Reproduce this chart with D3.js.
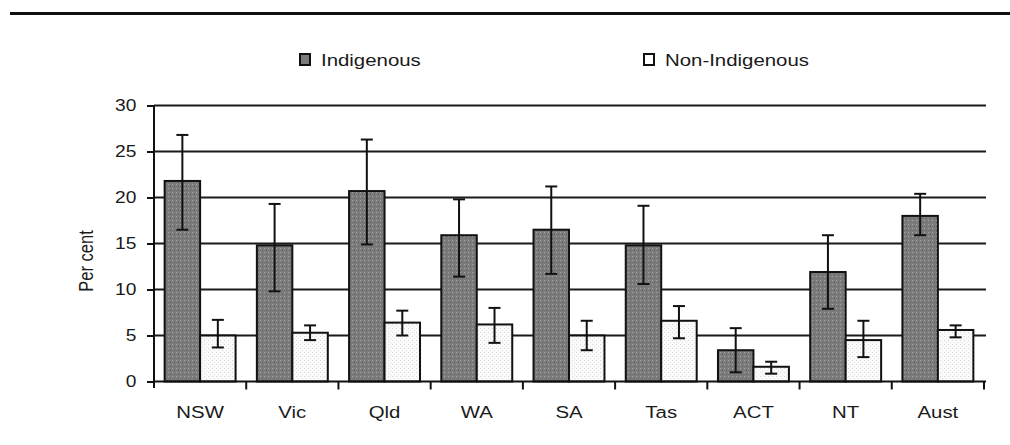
<!DOCTYPE html>
<html>
<head>
<meta charset="utf-8">
<script src="https://cdn.jsdelivr.net/npm/d3@7"></script>
<style>
  body { margin: 0; background: #fff; }
  text { font-family: "Liberation Sans", Arial, sans-serif; fill: #1a1a1a; }
</style>
</head>
<body>
<svg width="1010" height="445"></svg>
<script>
var categories = ["NSW", "Vic", "Qld", "WA", "SA", "Tas", "ACT", "NT", "Aust"];
var seriesNames = ["Indigenous", "Non-Indigenous"];
var indigenous = [21.8, 14.8, 20.7, 15.9, 16.5, 14.8, 3.4, 11.9, 18.0];
var indigenousLow = [16.5, 9.8, 14.9, 11.4, 11.7, 10.6, 1.0, 7.9, 15.9];
var indigenousHigh = [26.8, 19.3, 26.3, 19.8, 21.2, 19.1, 5.8, 15.9, 20.4];
var nonIndigenous = [5.0, 5.3, 6.4, 6.2, 5.0, 6.6, 1.6, 4.5, 5.6];
var nonIndigenousLow = [3.7, 4.5, 5.0, 4.2, 3.4, 4.7, 0.85, 2.65, 4.8];
var nonIndigenousHigh = [6.7, 6.1, 7.7, 8.0, 6.6, 8.2, 2.15, 6.6, 6.1];
var yTicks = [0, 5, 10, 15, 20, 25, 30];

var rows = [];
categories.forEach(function(c, i) {
  rows.push({cat: c, series: "Indigenous", v: indigenous[i], lo: indigenousLow[i], hi: indigenousHigh[i]});
  rows.push({cat: c, series: "Non-Indigenous", v: nonIndigenous[i], lo: nonIndigenousLow[i], hi: nonIndigenousHigh[i]});
});

var svg = d3.select("svg");
var stretch = 1.2;

// textures
var defs = svg.append("defs");
var pd = defs.append("pattern").attr("id", "darkDots")
  .attr("width", 4).attr("height", 4).attr("patternUnits", "userSpaceOnUse");
pd.append("rect").attr("width", 4).attr("height", 4).attr("fill", "#7b7b7b");
pd.append("rect").attr("x", 0).attr("y", 0).attr("width", 1).attr("height", 1).attr("fill", "#a8a8a8");
pd.append("rect").attr("x", 2).attr("y", 2).attr("width", 1).attr("height", 1).attr("fill", "#666");
var pl = defs.append("pattern").attr("id", "lightDots")
  .attr("width", 4).attr("height", 4).attr("patternUnits", "userSpaceOnUse");
pl.append("rect").attr("width", 4).attr("height", 4).attr("fill", "#fafafa");
pl.append("rect").attr("x", 0).attr("y", 0).attr("width", 1).attr("height", 1).attr("fill", "#d8d8d8");
pl.append("rect").attr("x", 2).attr("y", 2).attr("width", 1).attr("height", 1).attr("fill", "#e4e4e4");

var fills = {"Indigenous": "url(#darkDots)", "Non-Indigenous": "url(#lightDots)"};

// top rule
svg.append("line")
  .attr("x1", 10).attr("x2", 1010).attr("y1", 13.5).attr("y2", 13.5)
  .attr("stroke", "#111").attr("stroke-width", 3);

var x0 = d3.scaleBand().domain(categories).range([154, 984]).padding(0);
var x1 = d3.scaleBand().domain(seriesNames).range([0, x0.bandwidth()]).paddingInner(0).paddingOuter(0.3);
var y = d3.scaleLinear().domain([0, 30]).range([381.5, 105.5]);

// gridlines
svg.append("g").selectAll("line")
  .data(yTicks.filter(function(d) { return d > 0; }))
  .enter().append("line")
  .attr("x1", 154).attr("x2", 986)
  .attr("y1", function(d) { return y(d); }).attr("y2", function(d) { return y(d); })
  .attr("stroke", "#1a1a1a").attr("stroke-width", 2);

// y axis
var yAxis = svg.append("g")
  .attr("transform", "translate(154,0)")
  .call(d3.axisLeft(y).tickValues(yTicks).tickSize(7).tickPadding(8));
yAxis.select(".domain").attr("stroke", "#111").attr("stroke-width", 2).attr("d", "M0,105.5V388");
yAxis.selectAll(".tick line").attr("stroke", "#111").attr("stroke-width", 2);
yAxis.selectAll(".tick text")
  .attr("font-size", 16).attr("font-family", "Liberation Sans, Arial, sans-serif")
  .attr("fill", "#1a1a1a")
  .attr("transform", "scale(" + stretch + ",1) translate(" + (-8 * (stretch - 1) / stretch) + ",0)")
  .attr("x", -16 / stretch);

// bars
svg.append("g").selectAll("rect")
  .data(rows).enter().append("rect")
  .attr("x", function(d) { return x0(d.cat) + x1(d.series); })
  .attr("y", function(d) { return y(d.v); })
  .attr("width", x1.bandwidth())
  .attr("height", function(d) { return y(0) - y(d.v); })
  .attr("fill", function(d) { return fills[d.series]; })
  .attr("stroke", "#111").attr("stroke-width", 2);

// error bars
var err = svg.append("g").selectAll("g")
  .data(rows).enter().append("g")
  .attr("transform", function(d) { return "translate(" + (x0(d.cat) + x1(d.series) + x1.bandwidth() / 2) + ",0)"; });
err.append("line")
  .attr("y1", function(d) { return y(d.lo); }).attr("y2", function(d) { return y(d.hi); })
  .attr("stroke", "#111").attr("stroke-width", 2);
err.append("line")
  .attr("x1", -6).attr("x2", 6)
  .attr("y1", function(d) { return y(d.hi); }).attr("y2", function(d) { return y(d.hi); })
  .attr("stroke", "#111").attr("stroke-width", 2);
err.append("line")
  .attr("x1", -6).attr("x2", 6)
  .attr("y1", function(d) { return y(d.lo); }).attr("y2", function(d) { return y(d.lo); })
  .attr("stroke", "#111").attr("stroke-width", 2);

// x axis
svg.append("line")
  .attr("x1", 154).attr("x2", 986).attr("y1", y(0)).attr("y2", y(0))
  .attr("stroke", "#111").attr("stroke-width", 2);
svg.append("g").selectAll("line")
  .data(categories.slice(1).concat(["end"]))
  .enter().append("line")
  .attr("x1", function(d) { return d === "end" ? x0.range()[1] : x0(d); })
  .attr("x2", function(d) { return d === "end" ? x0.range()[1] : x0(d); })
  .attr("y1", y(0)).attr("y2", y(0) + 8)
  .attr("stroke", "#111").attr("stroke-width", 2);

svg.append("g").selectAll("text")
  .data(categories).enter().append("text")
  .attr("transform", function(d) { return "translate(" + (x0(d) + x0.bandwidth() / 2) + ",418) scale(" + stretch + ",1)"; })
  .attr("text-anchor", "middle")
  .attr("font-size", 17)
  .text(function(d) { return d; });

// y title
svg.append("text")
  .attr("transform", "translate(93,261) scale(" + stretch + ",1) rotate(-90)")
  .attr("text-anchor", "middle")
  .attr("font-size", 16.5)
  .text("Per cent");

// legend
var legendX = {"Indigenous": 300, "Non-Indigenous": 644};
var legend = svg.append("g").selectAll("g")
  .data(seriesNames).enter().append("g")
  .attr("transform", function(d) { return "translate(" + legendX[d] + ",54)"; });
legend.append("rect")
  .attr("width", 10).attr("height", 11)
  .attr("fill", function(d) { return d === "Indigenous" ? "#7b7b7b" : "#fff"; })
  .attr("stroke", "#111").attr("stroke-width", 2);
legend.append("text")
  .attr("transform", "translate(21,12) scale(" + stretch + ",1)")
  .attr("font-size", 17)
  .text(function(d) { return d; });
</script>
</body>
</html>
